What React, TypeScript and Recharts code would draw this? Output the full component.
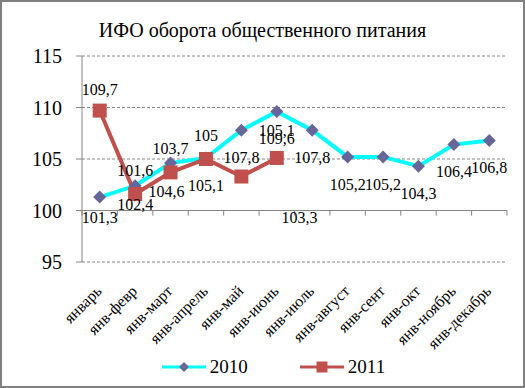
import React from 'react';
import { LineChart, Line, XAxis, YAxis, CartesianGrid, Legend, ReferenceLine, LabelList } from 'recharts';

const categories = [
  'январь', 'янв-февр', 'янв-март', 'янв-апрель', 'янв-май', 'янв-июнь',
  'янв-июль', 'янв-август', 'янв-сент', 'янв-окт', 'янв-ноябрь', 'янв-декабрь',
];
const values2010 = [101.3, 102.4, 104.6, 105.1, 107.8, 109.6, 107.8, 105.2, 105.2, 104.3, 106.4, 106.8];
const values2011 = [109.7, 101.6, 103.7, 105, 103.3, 105.1, null, null, null, null, null, null];
const yTicks = [95, 100, 105, 110, 115];

const FONT = "'Times New Roman', 'Liberation Serif', 'DejaVu Serif', serif";
const GRAY = '#868686';
const CYAN = '#00FFFF';
const NAVY = '#666699';
const RED = '#C0504D';

const data = categories.map((name, i) => ({
  pos: i + 0.5,
  name,
  y2010: values2010[i],
  y2011: values2011[i],
}));
const catTicks = data.map(d => d.pos);
const boundaries = [...categories.map((_, i) => i), categories.length];

const fmt = (v: number) => String(v).replace('.', ',');

// label nudges, mostly matching Excel's below/above placement
const off2010: Record<number, { dx: number; dy: number }> = {
  0: { dx: 0, dy: 20 },
  1: { dx: 0, dy: 19 },
  2: { dx: -4, dy: 28 },
};
const off2011: Record<number, { dx: number; dy: number }> = {
  0: { dx: 0, dy: -21 },
  4: { dx: 58, dy: 41 },
  5: { dx: 0, dy: -28 },
};

const makeLabel = (offsets: Record<number, { dx: number; dy: number }>, def: number) => (props: any) => {
  const { x, y, value, index } = props;
  if (value == null || x == null || y == null) return null;
  const o = offsets[index] || { dx: 0, dy: def };
  return (
    <text x={x + o.dx} y={y + o.dy} dy="0.35em" textAnchor="middle" fontSize={16} style={{ fontFamily: FONT }} fill="#000">
      {fmt(value)}
    </text>
  );
};

const DiamondDot = (props: any) => {
  const { cx, cy, index } = props;
  if (cx == null || cy == null) return <g key={`d${index}`} />;
  const s = 6.5;
  return (
    <polygon key={`d${index}`} points={`${cx},${cy - s} ${cx + s},${cy} ${cx},${cy + s} ${cx - s},${cy}`} fill={NAVY} />
  );
};

const SquareDot = (props: any) => {
  const { cx, cy, index } = props;
  if (cx == null || cy == null) return <g key={`s${index}`} />;
  const s = 7;
  return <rect key={`s${index}`} x={cx - s} y={cy - s} width={s * 2} height={s * 2} fill={RED} />;
};

const CatTick = (props: any) => {
  const { x, y, payload } = props;
  const i = Math.round(payload.value - 0.5);
  return (
    <text
      x={x + 3}
      y={y}
      textAnchor="end"
      fontSize={16}
      style={{ fontFamily: FONT }}
      fill="#000"
      transform={`rotate(-45, ${x + 3}, ${y})`}
    >
      {categories[i]}
    </text>
  );
};

const LegendContent = () => (
  <div
    style={{
      display: 'flex',
      justifyContent: 'center',
      alignItems: 'center',
      height: 34,
      paddingLeft: 18,
      paddingBottom: 4,
      boxSizing: 'border-box',
      fontFamily: FONT,
      fontSize: 19,
      color: '#000',
    }}
  >
    <svg width={44} height={14}>
      <line x1={0} y1={7} x2={44} y2={7} stroke={CYAN} strokeWidth={3} />
      <polygon points="22,2 27,7 22,12 17,7" fill={NAVY} />
    </svg>
    <span style={{ marginLeft: 4 }}>2010</span>
    <svg width={44} height={14} style={{ marginLeft: 52 }}>
      <line x1={0} y1={7} x2={44} y2={7} stroke={RED} strokeWidth={3} />
      <rect x={16.5} y={1.5} width={11} height={11} fill={RED} />
    </svg>
    <span style={{ marginLeft: 4 }}>2011</span>
  </div>
);

export default function App() {
  return (
    <div
      style={{
        position: 'absolute',
        left: 0,
        top: 0,
        width: 525,
        height: 388,
        boxSizing: 'border-box',
        border: '2px solid #808080',
        background: '#fff',
        fontFamily: FONT,
      }}
    >
      <div
        style={{
          position: 'absolute',
          top: 18,
          left: 0,
          width: '100%',
          textAlign: 'center',
          fontFamily: FONT,
          fontSize: 20,
          lineHeight: '20px',
          color: '#000',
        }}
      >
        ИФО оборота общественного питания
      </div>
      <LineChart
        width={521}
        height={384}
        data={data}
        margin={{ top: 54, right: 16, left: 20, bottom: 0 }}
        style={{ fontFamily: FONT }}
      >
        <CartesianGrid vertical={false} stroke={GRAY} strokeDasharray="3 2" />
        <XAxis
          dataKey="pos"
          type="number"
          domain={[0, categories.length]}
          ticks={catTicks}
          interval={0}
          axisLine={false}
          tickLine={false}
          tickMargin={24}
          height={90}
          tick={<CatTick />}
        />
        <YAxis
          domain={[95, 115]}
          ticks={yTicks}
          width={60}
          axisLine={{ stroke: GRAY }}
          tickLine={{ stroke: GRAY }}
          tickSize={6}
          tickMargin={14}
          tick={{ fontSize: 20, fill: '#000', style: { fontFamily: FONT } }}
        />
        <ReferenceLine y={100} stroke={GRAY} strokeWidth={1} />
        {boundaries.map(k => (
          <ReferenceLine
            key={k}
            segment={[{ x: k, y: 100 }, { x: k, y: 99.5 }]}
            stroke={GRAY}
            strokeWidth={1}
          />
        ))}
        <Legend verticalAlign="bottom" content={<LegendContent />} />
        <Line
          dataKey="y2010"
          name="2010"
          type="linear"
          stroke={CYAN}
          strokeWidth={4}
          dot={DiamondDot}
          activeDot={false}
          isAnimationActive={false}
        >
          <LabelList dataKey="y2010" content={makeLabel(off2010, 27)} />
        </Line>
        <Line
          dataKey="y2011"
          name="2011"
          type="linear"
          stroke={RED}
          strokeWidth={4}
          dot={SquareDot}
          activeDot={false}
          isAnimationActive={false}
        >
          <LabelList dataKey="y2011" content={makeLabel(off2011, -24)} />
        </Line>
      </LineChart>
    </div>
  );
}
